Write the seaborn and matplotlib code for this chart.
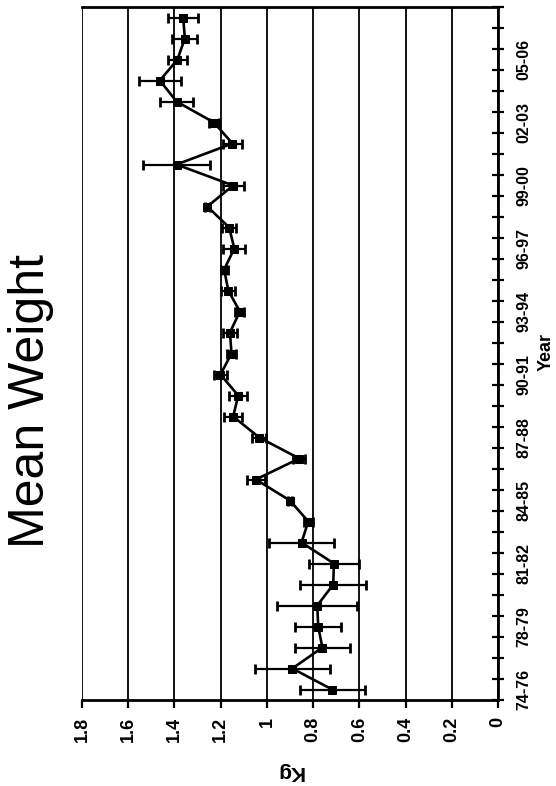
import matplotlib
matplotlib.use("Agg")
import matplotlib.pyplot as plt
import seaborn as sns
import numpy as np
import pandas as pd

seasons = ["74-76", "76-77", "77-78", "78-79", "79-80", "80-81", "81-82", "82-83",
           "83-84", "84-85", "85-86", "86-87", "87-88", "88-89", "89-90", "90-91",
           "91-92", "92-93", "93-94", "94-95", "95-96", "96-97", "97-98", "98-99",
           "99-00", "00-01", "01-02", "02-03", "03-04", "04-05", "05-06", "06-07",
           "07-08"]
mean_kg = [0.717, 0.890, 0.760, 0.778, 0.782, 0.713, 0.710, 0.850, 0.821, 0.900,
           1.048, 0.860, 1.033, 1.146, 1.124, 1.201, 1.153, 1.160, 1.117, 1.167,
           1.185, 1.141, 1.163, 1.258, 1.146, 1.391, 1.149, 1.229, 1.391, 1.463,
           1.387, 1.355, 1.362]
err_kg = [0.140, 0.162, 0.120, 0.100, 0.173, 0.142, 0.108, 0.139, 0.020, 0.010,
          0.040, 0.025, 0.030, 0.038, 0.040, 0.030, 0.020, 0.030, 0.020, 0.030,
          0.015, 0.047, 0.030, 0.010, 0.045, 0.143, 0.040, 0.020, 0.072, 0.092,
          0.041, 0.054, 0.065]
labelled = ["74-76", "78-79", "81-82", "84-85", "87-88", "90-91", "93-94",
            "96-97", "99-00", "02-03", "05-06"]
kg_ticks = [0, 0.2, 0.4, 0.6, 0.8, 1, 1.2, 1.4, 1.6, 1.8]
kg_labels = ["0", "0.2", "0.4", "0.6", "0.8", "1", "1.2", "1.4", "1.6", "1.8"]

df = pd.DataFrame({"season": seasons, "idx": np.arange(len(seasons)),
                   "kg": mean_kg, "err": err_kg})

sns.set_theme(style="white")
plt.rcParams["font.family"] = ["Liberation Sans", "DejaVu Sans"]
plt.rcParams["text.color"] = "black"
plt.rcParams["xtick.color"] = "black"
plt.rcParams["ytick.color"] = "black"
plt.rcParams["axes.labelcolor"] = "black"

fig = plt.figure(figsize=(5.56, 7.86), dpi=100)
W, H = 556, 786
ax = fig.add_axes([82 / W, (H - 700) / H, (498 - 82) / W, (700 - 7) / H])

# gridlines
for t in kg_ticks:
    ax.axvline(t, color="black", lw=1.3, zorder=1)

ax.errorbar(df["kg"], df["idx"], xerr=df["err"], fmt="none", ecolor="black",
            elinewidth=1.6, capsize=3.5, capthick=2.0, zorder=3)
sns.lineplot(data=df, x="kg", y="idx", orient="y", sort=False, color="black",
             lw=1.9, marker="s", markersize=6, markeredgecolor="black",
             ax=ax, zorder=4)

ax.set_xlim(1.8, 0)
ax.set_ylim(-0.5, len(seasons) - 0.5)

ax.set_xticks(kg_ticks)
ax.set_xticklabels(kg_labels, rotation=90, fontsize=13, fontweight="bold",
                   color="black")
ax.tick_params(axis="x", direction="out", length=6, width=1.6, pad=6,
               colors="black", bottom=True)

ax.yaxis.tick_right()
ax.set_yticks([seasons.index(s) for s in labelled])
ax.set_yticklabels(labelled, rotation=90, fontsize=11.5, va="center",
                   fontweight="bold", color="black")
ax.tick_params(axis="y", which="major", length=0, pad=13, right=True)
ax.set_yticks(np.arange(-0.5, len(seasons), 1.0), minor=True)
ax.tick_params(axis="y", which="minor", direction="inout", length=9, width=1.6,
               right=True, left=False, colors="black")

for side in ["top", "right", "bottom"]:
    ax.spines[side].set_visible(True)
    ax.spines[side].set_color("black")
    ax.spines[side].set_linewidth(2.0)
ax.spines["left"].set_visible(False)

ax.set_xlabel("")
ax.set_ylabel("")
fig.text(290 / W, 1 - 772 / H, "Kg", rotation=180, fontsize=15,
         fontweight="bold", ha="center", va="center", color="black")
fig.text(538 / W, 1 - 352 / H, "Year", rotation=90, fontsize=13,
         fontweight="bold", ha="left", va="center", color="black")
fig.text(31 / W, 1 - 401 / H, "Mean Weight", rotation=90, fontsize=36,
         ha="center", va="center", color="black")

fig.savefig("out.png", dpi=100, facecolor="white")
